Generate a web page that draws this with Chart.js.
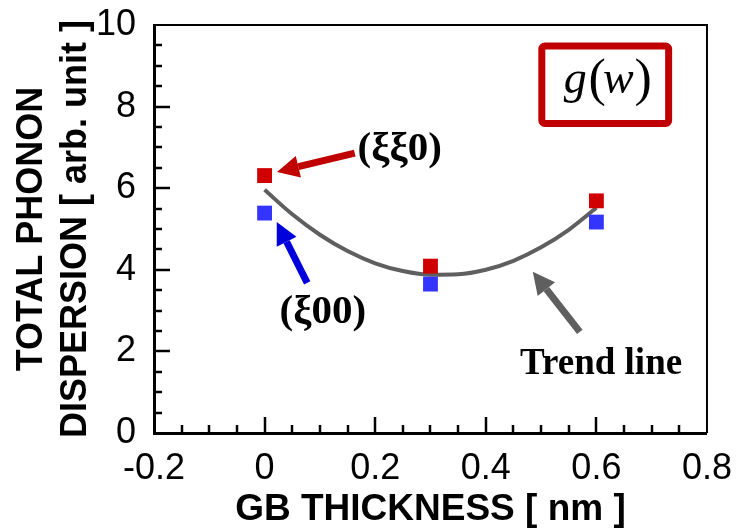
<!DOCTYPE html>
<html>
<head>
<meta charset="utf-8">
<script src="https://cdn.jsdelivr.net/npm/chart.js@4/dist/chart.umd.min.js"></script>
<style>
  html, body { margin: 0; padding: 0; background: #fff; }
  #wrap { width: 740px; height: 532px; }
</style>
</head>
<body>
<div id="wrap"><canvas id="chart" width="740" height="532"></canvas></div>
<script>
// values
const thickness = [0, 0.3, 0.6];
const dispXiXi0 = [6.31, 4.09, 5.69];
const dispXi00 = [5.39, 3.65, 5.17];
const trendX = [0, 0.05, 0.1, 0.15, 0.2, 0.25, 0.3, 0.35, 0.4, 0.45, 0.5, 0.55, 0.6];
const trendY = [5.96, 5.36, 4.86, 4.46, 4.16, 3.97, 3.88, 3.89, 4.0, 4.22, 4.55, 4.98, 5.52];

const xRange = { min: -0.2, max: 0.8, step: 0.2, minor: 0.05 };
const yRange = { min: 0, max: 10, step: 2, minor: 0.5 };

const toPoints = (xs, ys) => xs.map((x, i) => ({ x, y: ys[i] }));

// inward major/minor ticks + top/right frame
const frameTicks = {
    id: 'frameTicks',
    afterDraw(chart) {
        const { ctx, chartArea: a, scales: { x, y } } = chart;
        ctx.save();
        ctx.strokeStyle = '#000';
        ctx.lineWidth = 2;
        ctx.beginPath();
        ctx.moveTo(a.left, a.top);
        ctx.lineTo(a.right, a.top);
        ctx.lineTo(a.right, a.bottom);
        ctx.stroke();

        ctx.lineWidth = 2.5;
        const nx = Math.round((xRange.max - xRange.min) / xRange.minor);
        for (let i = 1; i < nx; i++) {
            const v = xRange.min + i * xRange.minor;
            const major = i % 4 === 0;
            const px = Math.round(x.getPixelForValue(v));
            ctx.beginPath();
            ctx.moveTo(px, a.bottom);
            ctx.lineTo(px, a.bottom - (major ? 16 : 8));
            ctx.stroke();
        }
        const ny = Math.round((yRange.max - yRange.min) / yRange.minor);
        for (let i = 1; i < ny; i++) {
            const v = yRange.min + i * yRange.minor;
            const major = i % 4 === 0;
            const py = Math.round(y.getPixelForValue(v));
            ctx.beginPath();
            ctx.moveTo(a.left, py);
            ctx.lineTo(a.left + (major ? 16 : 8), py);
            ctx.stroke();
        }
        ctx.restore();
    }
};

function arrow(ctx, x0, y0, x1, y1, color, width, headLen, headW) {
    const ang = Math.atan2(y1 - y0, x1 - x0);
    const bx = x1 - headLen * Math.cos(ang);
    const by = y1 - headLen * Math.sin(ang);
    ctx.save();
    ctx.strokeStyle = color;
    ctx.fillStyle = color;
    ctx.lineWidth = width;
    ctx.beginPath();
    ctx.moveTo(x0, y0);
    ctx.lineTo(bx, by);
    ctx.stroke();
    ctx.beginPath();
    ctx.moveTo(x1, y1);
    ctx.lineTo(bx + headW * Math.sin(ang), by - headW * Math.cos(ang));
    ctx.lineTo(bx - headW * Math.sin(ang), by + headW * Math.cos(ang));
    ctx.closePath();
    ctx.fill();
    ctx.restore();
}

const notes = {
    id: 'notes',
    afterDraw(chart) {
        const { ctx, scales: { x, y } } = chart;
        const P = (vx, vy) => [x.getPixelForValue(vx), y.getPixelForValue(vy)];

        let t = P(0.163, 6.86), h = P(0.0224, 6.4);
        arrow(ctx, t[0], t[1], h[0], h[1], '#c00000', 7, 22, 11);
        t = P(0.077, 3.68); h = P(0.022, 5.17);
        arrow(ctx, t[0], t[1], h[0], h[1], '#0000dd', 7, 22, 11);
        t = P(0.57, 2.48); h = P(0.485, 3.95);
        arrow(ctx, t[0], t[1], h[0], h[1], '#5f5f5f', 7, 22, 11);

        ctx.save();
        ctx.fillStyle = '#000';
        ctx.textBaseline = 'middle';
        ctx.textAlign = 'left';
        ctx.font = 'bold 41px "Liberation Serif"';
        let p = P(0.168, 6.95);
        ctx.fillText('(ξξ0)', p[0], p[1]);
        p = P(0.027, 2.95);
        ctx.fillText('(ξ00)', p[0], p[1]);
        ctx.font = 'bold 37px "Liberation Serif"';
        p = P(0.462, 1.67);
        ctx.fillText('Trend line', p[0], p[1]);

        // g(w) box
        const bx = P(0.495, 9.57), bx2 = P(0.737, 7.5);
        ctx.strokeStyle = '#c00000';
        ctx.lineWidth = 7;
        ctx.beginPath();
        ctx.roundRect(bx[0] + 3.5, bx[1] + 3.5, bx2[0] - bx[0] - 7, bx2[1] - bx[1] - 7, 3);
        ctx.stroke();
        const cx = (bx[0] + bx2[0]) / 2, cy = (bx[1] + bx2[1]) / 2;
        ctx.textAlign = 'center';
        ctx.font = 'italic 46px "Liberation Serif"';
        ctx.fillText('g', cx - 30, cy - 4);
        ctx.fillText('w', cx + 13, cy - 4);
        ctx.font = '52px "Liberation Serif"';
        ctx.fillText('(', cx - 8, cy - 3);
        ctx.fillText(')', cx + 38, cy - 3);
        ctx.restore();
    }
};

new Chart(document.getElementById('chart'), {
    type: 'scatter',
    data: {
        datasets: [
            {
                label: 'Trend line',
                data: toPoints(trendX, trendY),
                showLine: true,
                borderColor: '#5f5f5f',
                borderWidth: 4,
                pointRadius: 0,
                cubicInterpolationMode: 'monotone',
                order: 3
            },
            {
                label: '(ξξ0)',
                data: toPoints(thickness, dispXiXi0),
                pointStyle: 'rect',
                pointRadius: 10.5,
                backgroundColor: '#d00000',
                borderWidth: 0,
                order: 1
            },
            {
                label: '(ξ00)',
                data: toPoints(thickness, dispXi00),
                pointStyle: 'rect',
                pointRadius: 10.5,
                backgroundColor: '#3434ff',
                borderWidth: 0,
                order: 2
            }
        ]
    },
    options: {
        responsive: false,
        animation: false,
        layout: { padding: { left: 0, top: 25, right: 33, bottom: 2 } },
        plugins: { legend: { display: false }, tooltip: { enabled: false } },
        scales: {
            x: {
                type: 'linear',
                min: xRange.min,
                max: xRange.max,
                grid: { display: false },
                border: { display: true, color: '#000', width: 3 },
                ticks: {
                    stepSize: xRange.step,
                    color: '#000',
                    padding: 8,
                    font: { family: '"Liberation Sans", Arial', size: 36, lineHeight: 1.1 },
                    callback: v => String(+v.toFixed(1))
                },
                title: {
                    display: true,
                    text: 'GB THICKNESS [ nm ]',
                    color: '#000',
                    padding: { top: 0, bottom: 0 },
                    font: { family: '"Liberation Sans", Arial', size: 37, weight: 'bold', lineHeight: 1.1 }
                },
                afterFit(scale) { scale.height = 97; }
            },
            y: {
                type: 'linear',
                min: yRange.min,
                max: yRange.max,
                grid: { display: false },
                border: { display: true, color: '#000', width: 3 },
                ticks: {
                    stepSize: yRange.step,
                    color: '#000',
                    padding: 10,
                    font: { family: '"Liberation Sans", Arial', size: 36 }
                },
                title: {
                    display: true,
                    text: ['TOTAL PHONON', 'DISPERSION [ arb. unit ]'],
                    color: '#000',
                    padding: { top: 10, bottom: 0 },
                    font: { family: '"Liberation Sans", Arial', size: 36, weight: 'bold', lineHeight: 1.22 }
                },
                afterFit(scale) {
                    scale.width = 154;
                    scale.paddingTop = 0;
                    scale.paddingBottom = 0;
                }
            }
        }
    },
    plugins: [frameTicks, notes]
});
</script>
</body>
</html>
